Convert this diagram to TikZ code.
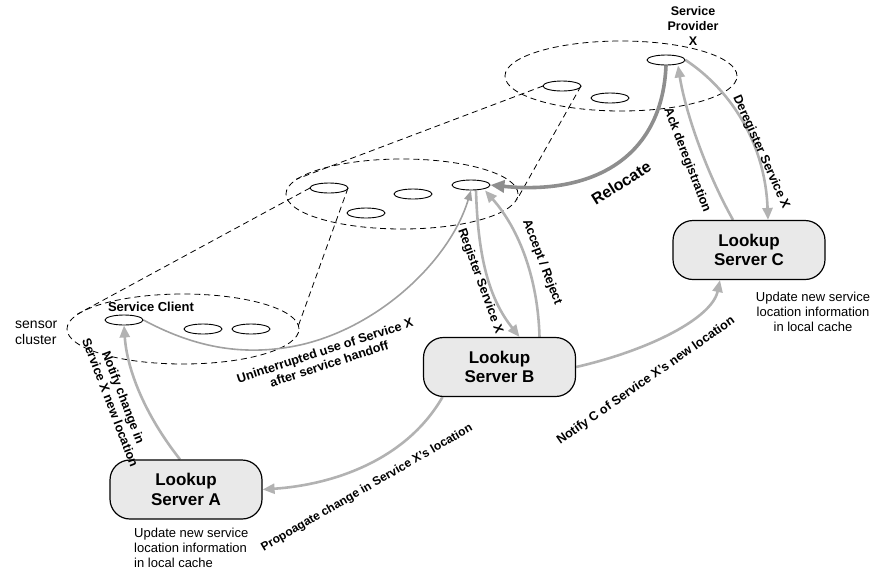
\documentclass[tikz,border=0pt]{standalone}
\usepackage{fontspec}
\setmainfont{Liberation Sans}
\usetikzlibrary{arrows.meta,shapes.geometric}
\definecolor{linkgray}{HTML}{B2B2B2}
\definecolor{relocgray}{HTML}{8E8E8E}
\definecolor{usegray}{HTML}{A0A0A0}
\definecolor{boxfill}{HTML}{E9E9E9}
\pgfdeclarelayer{clusterlayer}
\pgfdeclarelayer{arrowlayer}
\pgfsetlayers{clusterlayer,arrowlayer,main}
\begin{document}
\begin{tikzpicture}[x=1pt,y=-1pt,
  cluster/.style={ellipse,draw,dash pattern=on 6pt off 4pt,line width=0.8pt,
    minimum width=232pt,minimum height=70pt,inner sep=0pt},
  sensornode/.style={ellipse,draw,fill=white,line width=0.9pt,
    minimum width=38pt,minimum height=10pt,inner sep=0pt},
  zoomline/.style={dash pattern=on 6pt off 4pt,line width=0.8pt},
  server/.style={draw,line width=1.2pt,fill=boxfill,rounded corners=20pt,
    minimum width=152pt,minimum height=59pt,align=center,
    font=\fontsize{17}{19.5}\selectfont\bfseries},
  msg/.style={color=linkgray,line width=2.6pt,-{Triangle[length=12pt,width=10pt]}},
  usearrow/.style={color=usegray,line width=1.6pt,-{Triangle[length=10pt,width=8pt]}},
  relocarrow/.style={color=relocgray,line width=3.6pt,-{Triangle[length=14pt,width=12pt]}},
  lbl/.style={font=\fontsize{12.6}{14}\selectfont\bfseries,align=center,inner sep=0pt},
  note/.style={font=\fontsize{13}{14.8}\selectfont,inner sep=0pt},
]
\useasboundingbox (0,0) rectangle (875,574);

% sensor clusters and the zoom lines that open a node up into the next cluster
\begin{pgfonlayer}{clusterlayer}
\node[cluster] (tcl) at (621,76) {};
\node[cluster] (mcl) at (402,194) {};
\node[cluster] (bcl) at (183,329) {};
\draw[zoomline] (562,86) ++(-19,0) coordinate (t1w) -- (mcl.172);
\draw[zoomline] (562,86) ++(19,0) coordinate (t1e) -- (mcl.-3);
\draw[zoomline] (329,188) ++(-19,0) coordinate (m1w) -- (bcl.172);
\draw[zoomline] (329,188) ++(19,0) coordinate (m1e) -- (bcl.2);
\end{pgfonlayer}

% sensor nodes
\node[sensornode] (t1) at (562,86) {};
\node[sensornode] (t2) at (610,98) {};
\node[sensornode] (prov) at (666,60) {};
\node[sensornode] (m1) at (329,188) {};
\node[sensornode] (m2) at (366,213) {};
\node[sensornode] (m3) at (413,194) {};
\node[sensornode] (m4) at (471,185) {};
\node[sensornode] (client) at (124,320) {};
\node[sensornode] (b2) at (203,329) {};
\node[sensornode] (b3) at (251,329) {};

% lookup servers
\node[server] (A) at (186,489.5) {Lookup\\Server A};
\node[server] (B) at (499.5,367) {Lookup\\Server B};
\node[server] (C) at (749,250) {Lookup\\Server C};

% messages
\begin{pgfonlayer}{arrowlayer}
\draw[msg] ([xshift=-6pt]A.north) .. controls (145,415) and (127,370) .. (client.south);
\draw[usearrow] (client.east) .. controls (190,345) and (240,358) .. (300,345)
  .. controls (380,327) and (450,260) .. (m4.south);
\draw[msg] ([xshift=5pt]m4.south) .. controls (478,260) and (490,300) .. ([xshift=20pt]B.north);
\draw[msg] ([xshift=40pt]B.north) .. controls (538,280) and (520,230) .. ([xshift=14pt]m4.south);
\draw[relocarrow] (prov.south) .. controls (662,160) and (590,195) .. (m4.east);
\draw[msg] ([xshift=-16pt]C.north) .. controls (705,170) and (685,110) .. ([xshift=12pt]prov.south);
\draw[msg] (prov.east) .. controls (728,88) and (765,140) .. ([xshift=19pt]C.north);
\draw[msg] (B.east) .. controls (650,350) and (712,318) .. ([xshift=-29pt]C.south);
\draw[msg] ([xshift=-57pt]B.south) .. controls (405,462) and (330,485) .. (A.east);
\end{pgfonlayer}

% captions
\node[font=\fontsize{12.5}{15}\selectfont\bfseries,align=center,inner sep=0pt] (provlbl) at (693,26) {Service\\Provider\\X};
\node[font=\fontsize{13}{15}\selectfont\bfseries,inner sep=0pt] (clientlbl) at (151,307) {Service Client};
\node[font=\fontsize{14}{16.5}\selectfont,align=left,anchor=west,inner sep=0pt] (senslbl) at (15,333) {sensor\\cluster};
\node[note,align=left,anchor=north west] (noteA) at (134,528) {Update new service\\location information\\in local cache};
\node[note,align=center,anchor=north] (noteC) at (813,292) {Update new service\\location information\\in local cache};

% message labels
\node[lbl,rotate=-69] (notifylbl) at (117,400) {Notify change in\\Service X new location};
\node[lbl,rotate=18] (uselbl) at (327,357) {Uninterrupted use of Service X\\after service handoff};
\node[lbl,rotate=-70] (reglbl) at (480,281) {Register Service X};
\node[lbl,rotate=-69] (acclbl) at (542,262) {Accept / Reject};
\node[font=\fontsize{16}{18}\selectfont\bfseries,inner sep=0pt,rotate=32] (reloclbl) at (621,183) {Relocate};
\node[lbl,rotate=-69] (acklbl) at (687,160) {Ack deregistration};
\node[lbl,rotate=-66] (dereglbl) at (761,152) {Deregister Service X};
\node[lbl,rotate=35] (notclbl) at (646,381) {Notify C of Service X's new location};
\node[lbl,font=\fontsize{12}{14}\selectfont\bfseries,rotate=30] (proplbl) at (367,488) {Propoagate change in Service X's location};
\end{tikzpicture}
\end{document}
